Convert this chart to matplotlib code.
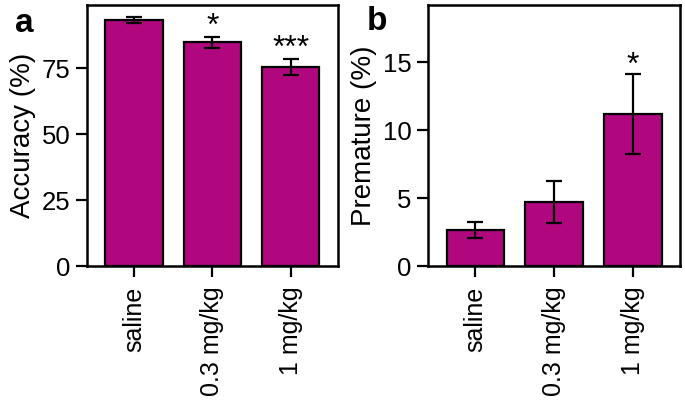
import matplotlib
matplotlib.use("Agg")
import matplotlib.pyplot as plt

# ----------------------------------------------------------------------------------------------------------------------
#  DATA
# ----------------------------------------------------------------------------------------------------------------------
groups        = ['saline', '0.3 mg/kg', '1 mg/kg']
accuracy      = [93.2, 84.8, 75.5]
accuracy_err  = [1.2, 2.2, 3.0]
accuracy_sig  = ['', '*', '***']
premature     = [2.65, 4.7, 11.2]
premature_err = [0.6, 1.55, 2.95]
premature_sig = ['', '', '*']

bar_color = '#B0077F'

plt.rcParams['font.family'] = ['Liberation Sans', 'DejaVu Sans']
plt.rcParams['axes.linewidth'] = 1.8

fig = plt.figure(figsize=(6.85, 4.0), dpi=100)
ax_a = fig.add_axes([0.127, 0.335, 0.366, 0.6525])
ax_b = fig.add_axes([0.625, 0.335, 0.368, 0.6525])


def draw_panel(ax, values, errors, marks, ylim, yticks, ylabel, mark_pad):
    x = range(len(groups))
    ax.bar(x, values, width=0.73, color=bar_color, edgecolor='black', linewidth=1.6,
           yerr=errors, capsize=6, error_kw=dict(elinewidth=1.6, capthick=1.6, ecolor='black'))
    for i, m in enumerate(marks):
        if m:
            ax.text(i, values[i] + errors[i] + mark_pad, m, ha='center', va='bottom', fontsize=23)
    ax.set_xlim(-0.6, 2.6)
    ax.set_ylim(*ylim)
    ax.set_yticks(yticks)
    ax.set_xticks(list(x))
    ax.set_xticklabels(groups, rotation=90)
    ax.set_ylabel(ylabel, fontsize=20, labelpad=4)
    ax.tick_params(axis='both', direction='out', length=8, width=1.6, labelsize=18.5, pad=4)
    ax.tick_params(axis='x', labelsize=18, pad=7)


draw_panel(ax_a, accuracy, accuracy_err, accuracy_sig, (0, 99), [0, 25, 50, 75],
           'Accuracy (%)', -2.0)
draw_panel(ax_b, premature, premature_err, premature_sig, (0, 19.2), [0, 5, 10, 15],
           'Premature (%)', -0.5)

fig.text(0.022, 0.92, 'a', fontsize=24, fontweight='bold')
fig.text(0.535, 0.925, 'b', fontsize=24, fontweight='bold')

fig.savefig('out.png', dpi=100)
